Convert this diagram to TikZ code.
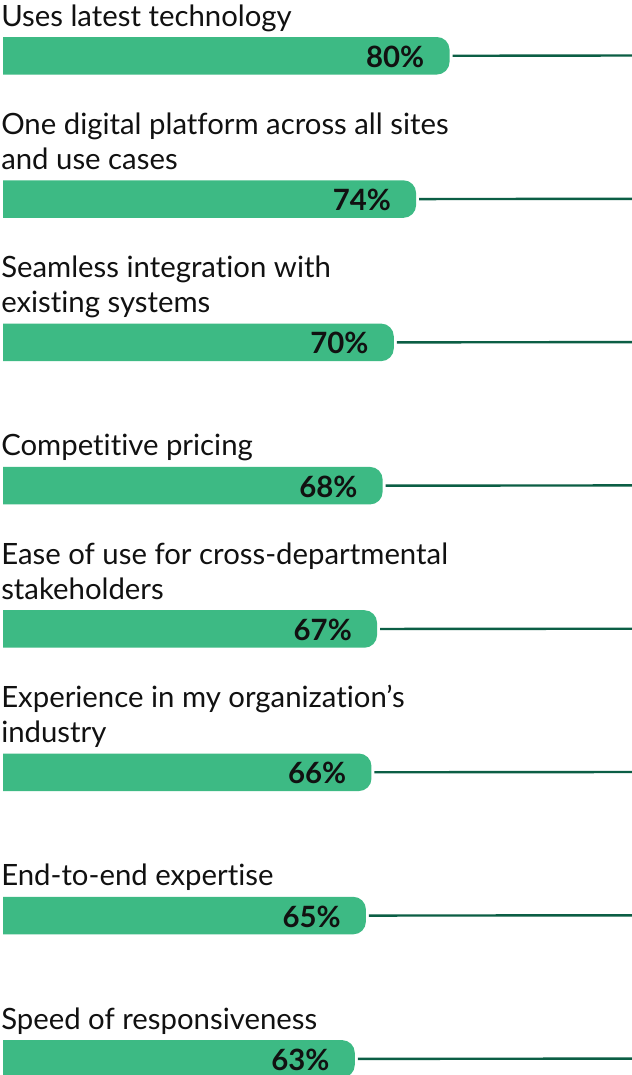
\documentclass[tikz,border=0pt]{standalone}
\usepackage{fontspec}
\setmainfont{Lato}[Ligatures=NoCommon]
\usetikzlibrary{positioning}
\definecolor{barGreen}{HTML}{3DBA84}
\definecolor{leadGreen}{HTML}{0B5E45}
\definecolor{txtBlack}{HTML}{111111}

\begin{document}
\begin{tikzpicture}[
    x=0.75pt, y=-0.75pt,
    barbox/.style={inner sep=0, minimum height=27.75pt, anchor=north west},
    lbl/.style={inner sep=0, anchor=base west, align=left, font=\fontsize{22}{26.25}\selectfont, text=txtBlack},
    pct/.style={inner sep=0, anchor=base east, font=\bfseries\fontsize{22}{24}\selectfont, text=txtBlack},
    leader/.style={draw=leadGreen, line width=1.8pt}
  ]
\useasboundingbox[fill=white] (0,0) rectangle (632,1075);

%% one bar per answer: index / share in percent / label
\foreach \i/\v/\txt in {
    1/80/{Uses latest technology},
    2/74/{One digital platform across all sites\\and use cases},
    3/70/{Seamless integration with\\existing systems},
    4/68/{Competitive pricing},
    5/67/{Ease of use for cross-departmental\\stakeholders},
    6/66/{Experience in my organization’s\\industry},
    7/65/{End-to-end expertise},
    8/63/{Speed of responsiveness}} {
  \pgfmathsetmacro{\top}{37+143.3*(\i-1)}
  \node[barbox, minimum width=\v*5.575*0.75pt] (bar\i) at (3,\top) {};
  \fill[barGreen] (bar\i.north west) -- ([xshift=-9.5pt]bar\i.north east)
    arc[start angle=90, end angle=0, radius=9.5pt] -- ([yshift=9.5pt]bar\i.south east)
    arc[start angle=0, end angle=-90, radius=9.5pt] -- (bar\i.south west) -- cycle;
  \node[pct] (val\i) at ([xshift=-18.75pt, yshift=-8.6pt]bar\i.east) {\v\%};
  \node[lbl] (lbl\i) at ([xshift=-1.5pt, yshift=8.25pt]bar\i.north west) {\txt};
  \coordinate (end\i) at (632,\top+18.5);
  \draw[leader] ([xshift=2.25pt]bar\i.east) -- (end\i);
}

\end{tikzpicture}
\end{document}
